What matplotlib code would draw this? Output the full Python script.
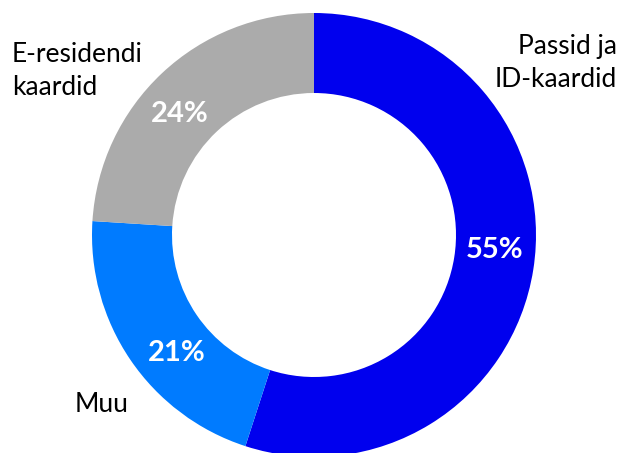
import numpy as np
import matplotlib.pyplot as plt

plt.rcParams['font.family'] = ['Lato', 'DejaVu Sans']

labels = ['Passid ja\nID-kaardid', 'Muu', 'E-residendi\nkaardid']
shares = [55, 21, 24]
colors = ['#0000EE', '#007BFF', '#ABABAB']

# where the percent labels sit, as angle (deg) and radius from the centre
pct_angles = [-4.7, -139.5, 137.9]
pct_radius = 181

cx, cy = 314, 218

fig = plt.figure(figsize=(6.3, 4.53), dpi=100)
ax = fig.add_axes([0, 0, 1, 1])

wedges, texts = ax.pie(shares, colors=colors, startangle=90, counterclock=False,
                       center=(cx, cy), radius=222, frame=True,
                       wedgeprops=dict(width=80, linewidth=0))
ax.set_xlim(0, 630)
ax.set_ylim(0, 453)
ax.set_aspect('equal')
ax.axis('off')

for s, a in zip(shares, pct_angles):
    t = np.deg2rad(a)
    ax.text(cx + pct_radius * np.cos(t), cy + pct_radius * np.sin(t), f'{s}%',
            ha='center', va='center', color='white', fontsize=21,
            fontweight='bold', fontstyle='normal')

ax.text(617, 419, labels[0], ha='right', va='top', fontsize=19, linespacing=1.38)
ax.text(75, 49, labels[1], ha='left', va='center', fontsize=19)
ax.text(12, 411, labels[2], ha='left', va='top', fontsize=19, linespacing=1.38)

fig.savefig('out.png', dpi=100)
